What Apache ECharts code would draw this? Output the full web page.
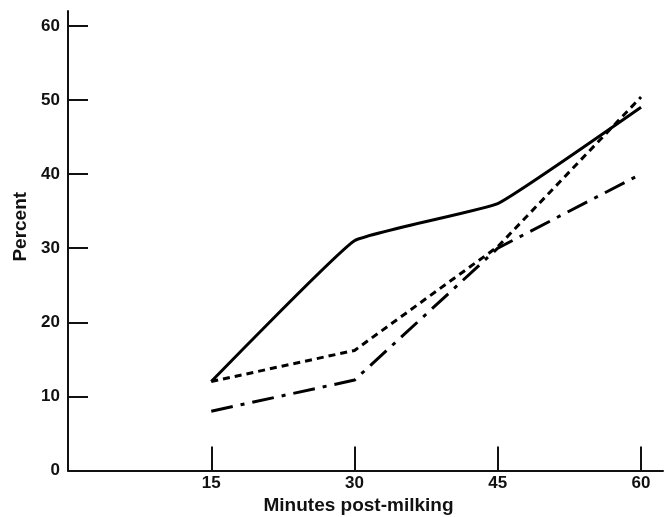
<!DOCTYPE html>
<html>
<head>
<meta charset="utf-8">
<script src="https://cdn.jsdelivr.net/npm/echarts@6/dist/echarts.min.js"></script>
<style>
html,body{margin:0;padding:0;background:#fff;}
#chart{width:665px;height:517px;}
</style>
</head>
<body>
<div id="chart"></div>
<script>
var minutes = [15, 30, 45, 60];
var solidSeries = [12, 31, 36, 49];
var dottedSeries = [12, 16.2, 30.2, 50.4];
var dashDotSeries = [8, 12.2, 30, 40];
var xTicks = [15, 30, 45, 60];
var yTicks = [0, 10, 20, 30, 40, 50, 60];

function pairs(vals) { return minutes.map(function (m, i) { return [m, vals[i]]; }); }

var font = '"Liberation Sans", Arial, sans-serif';
var chart = echarts.init(document.getElementById('chart'));
chart.setOption({
  animation: false,
  backgroundColor: '#fff',
  grid: { left: 68, right: 2, top: 11, bottom: 46.5, containLabel: false, outerBoundsMode: 'none' },
  xAxis: {
    type: 'value', min: 0, max: 62.3,
    name: 'Minutes post-milking', nameLocation: 'middle', nameGap: 26,
    nameTextStyle: { fontFamily: font, fontWeight: 'bold', fontSize: 19, color: '#111', padding: [0, 14, 0, 0] },
    axisLine: { show: true, lineStyle: { color: '#111', width: 2 } },
    axisTick: { show: true, inside: true, length: 24, customValues: xTicks, lineStyle: { color: '#111', width: 2 } },
    axisLabel: { customValues: xTicks, fontFamily: font, fontWeight: 'bold', fontSize: 17, color: '#111', margin: 4 },
    splitLine: { show: false }
  },
  yAxis: {
    type: 'value', min: 0, max: 62,
    name: 'Percent', nameLocation: 'middle', nameGap: 35, nameRotate: 90,
    nameTextStyle: { fontFamily: font, fontWeight: 'bold', fontSize: 19, color: '#111', padding: [0, 0, 0, 28] },
    axisLine: { show: true, lineStyle: { color: '#111', width: 2 } },
    axisTick: { show: true, inside: true, length: 20, customValues: yTicks, lineStyle: { color: '#111', width: 2 } },
    axisLabel: { customValues: yTicks, fontFamily: font, fontWeight: 'bold', fontSize: 17, color: '#111', margin: 8 },
    splitLine: { show: false }
  },
  series: [
    { type: 'line', data: pairs(solidSeries), symbol: 'none', smooth: 0.1,
      lineStyle: { color: '#000', width: 3, type: 'solid' } },
    { type: 'line', data: pairs(dottedSeries), symbol: 'none',
      lineStyle: { color: '#000', width: 3, type: [7, 5] } },
    { type: 'line', data: pairs(dashDotSeries), symbol: 'none',
      lineStyle: { color: '#000', width: 3, type: [22, 8, 4, 8] } }
  ]
});
</script>
</body>
</html>
